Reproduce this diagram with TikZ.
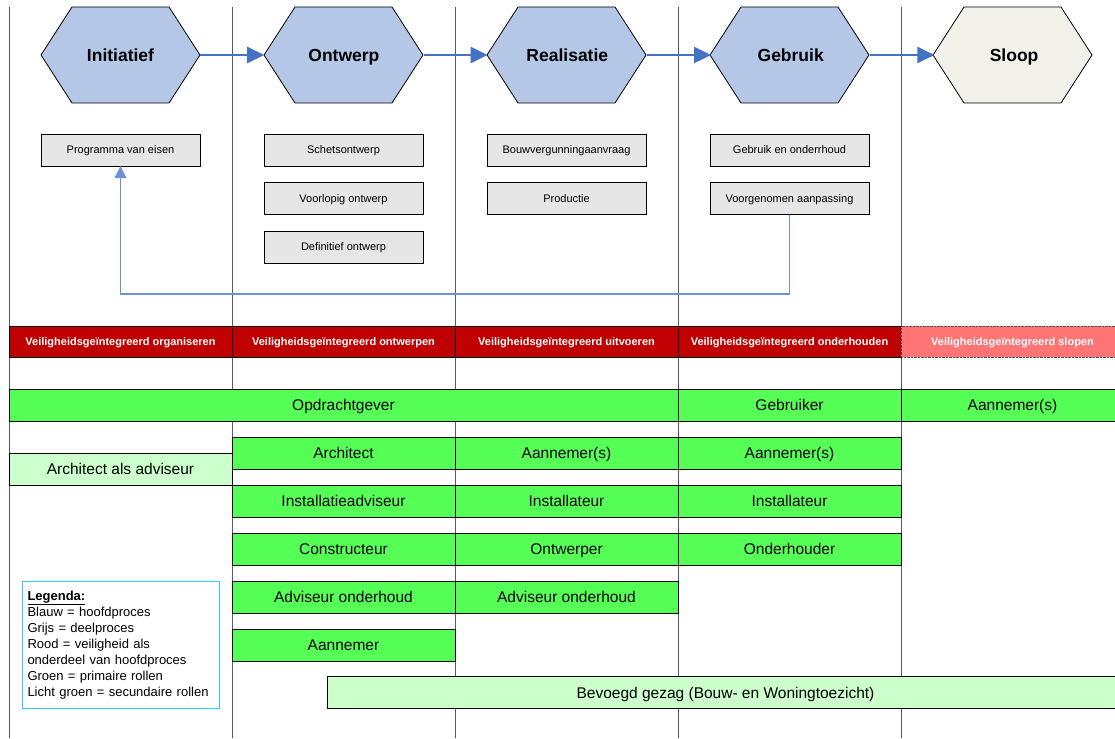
\documentclass[tikz,border=0pt]{standalone}
\usepackage{fontspec}
\setmainfont{Liberation Sans}
\usetikzlibrary{arrows.meta,positioning}

\definecolor{hexblue}{RGB}{180,199,231}
\definecolor{hexgrey}{RGB}{241,241,234}
\definecolor{subgrey}{RGB}{230,230,230}
\definecolor{rolegreen}{RGB}{85,255,85}
\definecolor{rolelight}{RGB}{204,255,204}
\definecolor{safered}{RGB}{192,0,0}
\definecolor{safelight}{RGB}{255,117,117}
\definecolor{flowblue}{RGB}{68,114,196}
\definecolor{backblue}{RGB}{110,146,214}
\definecolor{legendcyan}{RGB}{51,204,255}

\begin{document}
\begin{tikzpicture}[x=1pt, y=-1pt, node distance=16pt and 64pt,
    phase/.style={rectangle, minimum width=159pt, minimum height=96pt, inner sep=0pt,
        text height=12.5pt, text depth=0pt, font=\fontsize{17.5}{21}\selectfont\bfseries},
    hexagon/.style={draw, line width=0.8pt, line join=miter},
    subproc/.style={rectangle, draw, fill=subgrey, minimum width=159pt, minimum height=32pt,
        inner sep=0pt, text height=7.9pt, text depth=0pt, font=\fontsize{11}{13}\selectfont},
    safety/.style={rectangle, draw, fill=safered, text=white, minimum width=223pt, minimum height=31pt,
        inner sep=0pt, text height=7.9pt, text depth=0pt, font=\fontsize{11}{13}\selectfont\bfseries},
    role/.style={rectangle, draw, fill=rolegreen, minimum height=32pt, inner sep=0pt,
        text height=11.1pt, text depth=0pt, font=\fontsize{15.5}{18}\selectfont},
    rolelt/.style={role, fill=rolelight},
    lane/.style={black!65, line width=1pt},
    flow/.style={-{Triangle[length=17pt,width=16pt]}, flowblue, line width=2.5pt},
    feedback/.style={-{Triangle[length=12pt,width=12pt]}, backblue, line width=1.2pt}]

    \useasboundingbox (0,0) rectangle (1115,738);

    % Lanes
    \foreach \x in {9,232,455,678,901}
        \draw [lane] (\x,7) -- (\x,738);

    % Hexagons behind the phases
    \foreach \cx/\fc in {120.5/hexblue, 343.5/hexblue, 566.5/hexblue, 789.5/hexblue, 1012.5/hexgrey}
        \draw [hexagon, fill=\fc] (\cx-79.5,55) -- (\cx-48.5,7) -- (\cx+48.5,7)
              -- (\cx+79.5,55) -- (\cx+48.5,103) -- (\cx-48.5,103) -- cycle;

    % Phases {ini, ont, real, geb, sloop}
    \node [phase]                     (ini)   at (120.5,55) {Initiatief};
    \node [phase, right=64pt of ini]  (ont)                 {Ontwerp};
    \node [phase, right=64pt of ont]  (real)                {Realisatie};
    \node [phase, right=64pt of real] (geb)                 {Gebruik};
    \node [phase, right=64pt of geb]  (sloop)               {Sloop};

    % Subprocesses
    \node [subproc]                  (pve)    at (120.5,150) {Programma van eisen};
    \node [subproc]                  (schets) at (343.5,150) {Schetsontwerp};
    \node [subproc, below=of schets] (vo)                    {Voorlopig ontwerp};
    \node [subproc, below=of vo]     (do)                    {Definitief ontwerp};
    \node [subproc]                  (bouwv)  at (566.5,150) {Bouwvergunningaanvraag};
    \node [subproc, below=of bouwv]  (prod)                  {Productie};
    \node [subproc]                  (gebr)   at (789.5,150) {Gebruik en onderrhoud};
    \node [subproc, below=of gebr]   (aanp)                  {Voorgenomen aanpassing};

    % Safety bands
    \node [safety] (vorg) at (120.5,341.5)  {Veiligheidsgeïntegreerd organiseren};
    \node [safety] (vont) at (343.5,341.5)  {Veiligheidsgeïntegreerd ontwerpen};
    \node [safety] (vuit) at (566.5,341.5)  {Veiligheidsgeïntegreerd uitvoeren};
    \node [safety] (vond) at (789.5,341.5)  {Veiligheidsgeïntegreerd onderhouden};
    \node [safety, fill=safelight, draw=black!70, densely dotted] (vslo) at (1012.5,341.5)
          {Veiligheidsgeïntegreerd slopen};

    % Roles
    \node [role, minimum width=669pt]   (opdr)      at (343.5,405)  {Opdrachtgever};
    \node [role, minimum width=223pt]   (gebruiker) at (789.5,405)  {Gebruiker};
    \node [role, minimum width=223pt]   (sloper)    at (1012.5,405) {Aannemer(s)};

    \node [rolelt, minimum width=223pt] (archadv)   at (120.5,469)  {Architect als adviseur};

    \node [role, minimum width=223pt]   (arch)      at (343.5,453)  {Architect};
    \node [role, minimum width=223pt]   (instadv)   at (343.5,501)  {Installatieadviseur};
    \node [role, minimum width=223pt]   (constr)    at (343.5,549)  {Constructeur};
    \node [role, minimum width=223pt]   (advond)    at (343.5,597)  {Adviseur onderhoud};
    \node [role, minimum width=223pt]   (aannemer)  at (343.5,645)  {Aannemer};

    \node [role, minimum width=223pt]   (uitaann)   at (566.5,453)  {Aannemer(s)};
    \node [role, minimum width=223pt]   (uitinst)   at (566.5,501)  {Installateur};
    \node [role, minimum width=223pt]   (ontwerper) at (566.5,549)  {Ontwerper};
    \node [role, minimum width=223pt]   (uitadv)    at (566.5,597)  {Adviseur onderhoud};

    \node [role, minimum width=223pt]   (gebaann)   at (789.5,453)  {Aannemer(s)};
    \node [role, minimum width=223pt]   (gebinst)   at (789.5,501)  {Installateur};
    \node [role, minimum width=223pt]   (onderh)    at (789.5,549)  {Onderhouder};

    \node [rolelt, minimum width=797pt] (bevoegd)   at (725.5,692.5) {Bevoegd gezag (Bouw- en Woningtoezicht)};

    % Legend
    \node [draw=legendcyan, line width=1pt, anchor=north west, minimum width=197pt, minimum height=127pt,
           text width=187pt, inner sep=5pt, align=left, font=\fontsize{13}{16}\selectfont] (legenda) at (22,581)
          {\underline{\textbf{Legenda:}}\\
           Blauw = hoofdproces\\
           Grijs = deelproces\\
           Rood = veiligheid als\\
           onderdeel van hoofdproces\\
           Groen = primaire rollen\\
           Licht groen = secundaire rollen};

    % Paths
    \path [flow] (ini) edge (ont)
                 (ont) edge (real)
                 (real) edge (geb)
                 (geb) edge (sloop);

    \coordinate (fbturn) at (120.5,294);
    \draw [feedback] (aanp.south) |- (fbturn) -- (pve.south);

\end{tikzpicture}
\end{document}
